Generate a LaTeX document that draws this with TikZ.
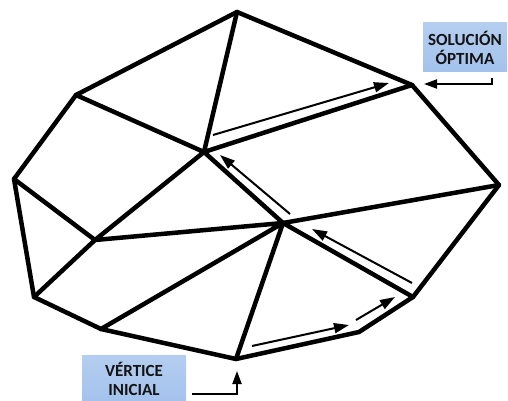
\documentclass[tikz,border=0pt]{standalone}
\usepackage{fontspec}
\setmainfont{Carlito}
\usetikzlibrary{arrows.meta}
\definecolor{boxblue}{HTML}{A3C2EC}
\definecolor{boxtop}{HTML}{B4CEF0}
\definecolor{inktext}{HTML}{141414}
\begin{document}
\begin{tikzpicture}[x=1pt,y=-1pt,
  edge/.style={line width=4.5pt,line join=round,line cap=round},
  simplexstep/.style={line width=2pt,-{Triangle[length=15pt,width=10pt]}},
  pointer/.style={line width=2pt,-{Triangle[length=13pt,width=9pt]}},
  lbl/.style={draw=none,top color=boxtop,bottom color=boxblue,text=inktext,
    font=\bfseries\fontsize{17}{19}\selectfont,align=center,inner sep=0pt}]
\useasboundingbox (0,0) rectangle (508,401);
% outer vertices
\coordinate (T) at (237,12);
\coordinate (S) at (412,85);
\coordinate (R) at (499,185);
\coordinate (LR) at (413,297);
\coordinate (B2) at (359,332);
\coordinate (B) at (236,359);
\coordinate (LL) at (101,329);
\coordinate (L2) at (34,297);
\coordinate (L) at (14,179);
\coordinate (UL) at (76,95);
% inner vertices
\coordinate (C1) at (204,152);
\coordinate (C2) at (283,223);
\coordinate (M) at (95,240);
% polytope
\draw[edge] (T) -- (S) -- (R) -- (LR) -- (B2) -- (B) -- (LL) -- (L2) -- (L) -- (UL) -- cycle;
\draw[edge] (T) -- (C1) (UL) -- (C1) (C1) -- (S) (C1) -- (M) (C1) -- (C2);
\draw[edge] (L) -- (M) (L2) -- (M) (M) -- (C2) (LL) -- (C2) (B) -- (C2);
\draw[edge] (C2) -- (R) (C2) -- (LR);
% simplex path
\coordinate (p1a) at (252,346); \coordinate (p1b) at (349,325);
\coordinate (p2a) at (356,320); \coordinate (p2b) at (395,297);
\coordinate (p3a) at (412,283); \coordinate (p3b) at (312,229);
\coordinate (p4a) at (290,214); \coordinate (p4b) at (220,155);
\coordinate (p5a) at (213,135); \coordinate (p5b) at (389,83);
\draw[simplexstep] (p1a) -- (p1b);
\draw[simplexstep] (p2a) -- (p2b);
\draw[simplexstep] (p3a) -- (p3b);
\draw[simplexstep] (p4a) -- (p4b);
\draw[simplexstep] (p5a) -- (p5b);
% labels
\node[lbl,minimum width=84pt,minimum height=49pt] (sol) at (465,47.5) {SOLUCIÓN\\ÓPTIMA};
\node[lbl,minimum width=104pt,minimum height=48pt] (vi) at (134,379) {VÉRTICE\\INICIAL};
\coordinate (solptr) at (424,84);
\coordinate (viptr) at (237,371);
\draw[pointer] ([xshift=27pt,yshift=-6pt]sol.south) |- (solptr);
\draw[pointer] ([xshift=6pt,yshift=-15pt]vi.east) -| (viptr);
\end{tikzpicture}
\end{document}
